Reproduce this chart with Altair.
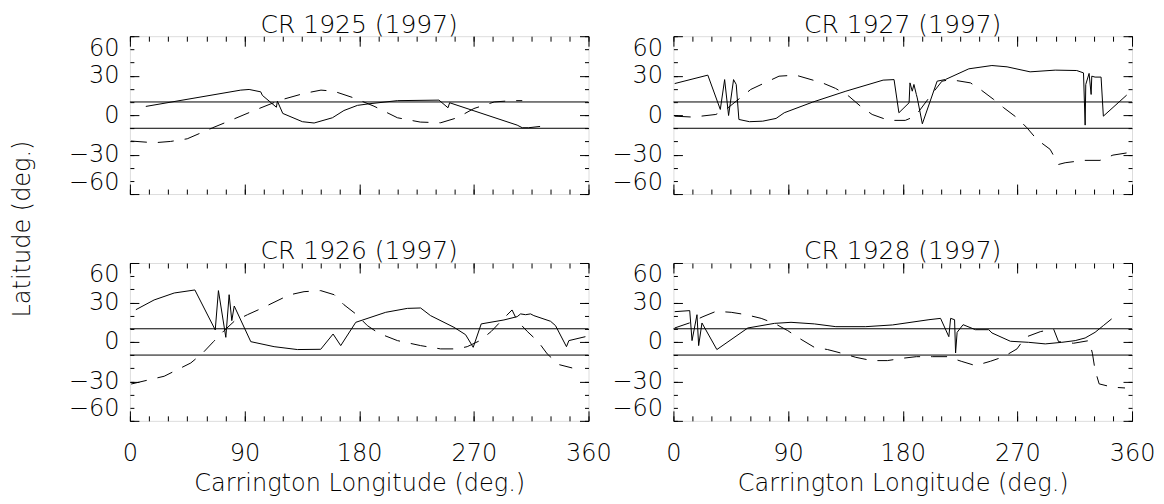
import altair as alt
import pandas as pd

# ---------------- data ----------------
X_MIN, X_MAX = 0, 360
Y_MIN, Y_MAX = -60, 60
BAND = [-10, 10]
X_MAJOR = [0, 90, 180, 270, 360]
X_MINOR = list(range(0, 361, 15))
Y_MAJOR = [-60, -30, 0, 30, 60]
Y_MINOR = list(range(-60, 61, 10))

CR1925_SOLID_LON = [12.5, 87, 93.6, 102.7, 104, 115, 115.8, 120, 135.4, 144.6, 159, 168, 178.6, 187.7,
                    210, 242.6, 249.7, 251, 304, 308, 313, 322]
CR1925_SOLID_LAT = [6.6, 19, 19.5, 17.7, 15, 6, 10.6, 1.3, -5, -6, -2, 3.5, 7.4, 8.6,
                    11, 11.4, 5.6, 9.4, -7.6, -9.6, -9.6, -8.6]
CR1925_DASH_LON = [0.8, 19, 32, 45, 65, 76.6, 97.5, 118, 136.7, 150, 160, 176, 191.6, 210, 228, 244,
                   257, 270, 286, 300, 308]
CR1925_DASH_LAT = [-19.7, -21, -20, -18, -9.6, -5, 3.5, 11.4, 16.5, 19, 18.2, 13, 6.8, -2, -5.3, -5.8,
                   -2, 5, 10, 11, 11]

CR1926_SOLID_LON = [4.7, 19, 34.8, 51, 67, 69.5, 75.3, 77.9, 80, 81.9, 94.9, 113.2, 131.5, 149.8, 159.5,
                    165.5, 177.3, 200.8, 217.8, 228.2, 236, 254.4, 263.5, 269.5, 275.8, 293.6, 304, 306.7,
                    310.6, 314.5, 317.1, 330.2, 334.1, 342.7, 344.6, 357.6]
CR1926_SOLID_LAT = [24.5, 31.9, 37.2, 39.5, 9.1, 39, 3.5, 35.9, 16.2, 27.3, 0.2, -3.6, -5.8, -5.6, 6,
                    -2.8, 14.9, 22.5, 25.5, 25.8, 20, 11.1, 5.5, -4.1, 13.7, 16.7, 19.2, 21.3,
                    20.7, 21.3, 20, 15.7, 12.4, -3.6, 1, 4]
CR1926_DASH_LON = [1, 26.9, 47.8, 57, 65.6, 74, 81.9, 92.3, 104, 125, 136.7, 149.8, 160.3, 168, 177.3,
                   186.4, 195.5, 210, 228.2, 243.9, 257, 264.8, 274.8, 283.7, 292.2, 300, 304, 311.9,
                   320.5, 327.6, 336.7, 347.2]
CR1926_DASH_LAT = [-32, -26.1, -16, -8.6, 0.2, 8.6, 15.7, 20.7, 25.8, 35.7, 38.2, 39, 35.9, 28.3, 21.3,
                   12.4, 6.5, 1, -2.8, -5.3, -5.3, -3.6, 1, 8, 16.7, 24.3, 16.2, 8,
                   0.2, -9.1, -17.2, -19.8]

CR1927_SOLID_LON = [1, 27, 36.8, 40.2, 43.3, 47.2, 49.3, 51.4, 59.7, 70.1, 80.6, 87, 109.3, 135.4, 164.6,
                    173.2, 177, 185, 185.7, 187.5, 188.8, 190.7, 191.4, 195.4, 207, 213.6, 231.9, 250,
                    261.9, 280, 299.7, 316.6, 321.9, 323.2, 323.7, 326.3, 327.9, 328.4, 331, 335.7,
                    337.5, 355.8]
CR1927_SOLID_LAT = [24, 30.4, 4.3, 27, -0.3, 27, 23.3, -3.3, -5, -4.6, -2.5, 1.8, 9.9, 18.2, 26.6,
                    27, 1.8, 9.4, 24.5, 18.2, 23.3, 15.7, 13.1, -6.6, 25.8, 27.1, 35.2, 37.7,
                    36.7, 32.9, 34.2, 33.9, 32.1, -7.6, 23.3, 31.7, 15.7, 29.6, 28.9, 28.9,
                    -0.8, 15.2]
CR1927_DASH_LON = [1, 15.4, 33.3, 41.2, 60.7, 82.9, 96, 117, 127.3, 137.7, 146.8, 156, 169, 182, 189.9,
                   201.6, 210.8, 217.5, 233.2, 241, 251.4, 259.3, 269.7, 277.5, 285.3, 295.7, 302.3,
                   307.5, 321.9, 334.9, 345, 356.8]
CR1927_DASH_LAT = [-0.8, -1.5, 0.5, 4.3, 19.5, 29.6, 30.4, 24.5, 20.3, 14.4, 6.8, 0.5, -4, -4, -0.8,
                   14.4, 25.8, 27, 24.5, 19.5, 11.9, 5.6, -2, -9.6, -18.5, -26, -37.5,
                   -36.2, -34.4, -34.4, -30.4, -28.6]

CR1928_SOLID_LON = [1, 12.8, 14.6, 18.5, 19.8, 22.4, 34.1, 58.4, 79.3, 92.3, 110.6, 127.5, 151, 172,
                    200.6, 209.7, 216.2, 217.6, 220.7, 221.5, 222.7, 227.4, 237.1, 247.5, 250.1,
                    264.5, 278.8, 291.9, 304.9, 315.4, 323.2, 331, 337.5, 344]
CR1928_SOLID_LAT = [23, 23.8, 1, 20.7, -2.8, 14.4, -5.8, 10.6, 14.1, 14.9, 13.7, 11.6, 11.6, 12.9,
                    16.9, 17.9, 4, 17.9, 16.9, -8.4, 7.3, 13.1, 9.3, 9.3, 6.8,
                    0.5, -0.3, -1.5, -0.3, 1, 3, 7.3, 12.4, 17.5]
CR1928_DASH_LON = [1, 12.5, 23.2, 33.6, 45.4, 57.1, 68.9, 79.3, 89.7, 99.6, 110.6, 121, 134, 143.2,
                   155.7, 168, 179.2, 190.7, 203.2, 214.9, 225.9, 237.1, 248.9, 259.3, 269.7, 276.2,
                   288, 298.4, 302.3, 314.1, 326.3, 328.9, 331, 334.2, 344.6, 354.5]
CR1928_DASH_LAT = [10.6, 14.4, 19.2, 23.3, 22.5, 20.7, 17.9, 14.1, 8.6, 2.3, -4.1, -5.8, -9.1, -11.7,
                   -14.2, -14.2, -12.5, -11.2, -11.2, -11.2, -14.7, -18, -14.7, -11.2, -5.3, 3.5,
                   7.8, 9.9, 0.2, -1, 1, -8.6, -21.5, -31.9, -34.4, -35]

TITLES = {"1925": "CR 1925 (1997)", "1926": "CR 1926 (1997)",
          "1927": "CR 1927 (1997)", "1928": "CR 1928 (1997)"}
X_TITLE = "Carrington Longitude (deg.)"
Y_TITLE = "Latitude (deg.)"

# ---------------- styling ----------------
FONT = "DejaVu Sans"
WEIGHT = 200
FS = 24
TFS = 25
W, H = 459, 158
XMAJ, XMIN_T, YMAJ, YMIN_T = 10, 5, 9, 4

common = dict(domain=False, grid=False, ticks=True, tickColor="black", tickWidth=1,
              labelFont=FONT, labelFontSize=FS, labelFontWeight=WEIGHT, labelColor="black",
              titleFont=FONT, titleFontSize=FS, titleFontWeight=WEIGHT, titleColor="black",
              labelOverlap=False)


def panel(key, slon, slat, dlon, dlat, bottom, ytitle):
    solid = pd.DataFrame({"lon": slon, "lat": slat, "i": range(len(slon))})
    dashed = pd.DataFrame({"lon": dlon, "lat": dlat, "i": range(len(dlon))})
    upper = pd.DataFrame({"x0": [X_MIN], "x1": [X_MAX], "lat": [BAND[1]]})
    lower = pd.DataFrame({"x0": [X_MIN], "x1": [X_MAX], "lat": [BAND[0]]})
    xs = alt.Scale(domain=[X_MIN, X_MAX], nice=False, zero=False)
    ys = alt.Scale(domain=[Y_MIN, Y_MAX], nice=False, zero=False)

    ax_b = alt.Axis(orient="bottom", values=X_MAJOR, tickSize=XMAJ, offset=-XMAJ, labels=bottom,
                    labelPadding=21, labelFlush=False, format="d", titlePadding=6, **common)
    ax_t = alt.Axis(orient="top", values=X_MAJOR, tickSize=XMAJ, offset=-XMAJ, labels=False, **common)
    ax_bm = alt.Axis(orient="bottom", values=X_MINOR, tickSize=XMIN_T, offset=-XMIN_T, labels=False, **common)
    ax_tm = alt.Axis(orient="top", values=X_MINOR, tickSize=XMIN_T, offset=-XMIN_T, labels=False, **common)

    left_kw = dict(orient="left", values=Y_MAJOR, tickSize=YMAJ, offset=-YMAJ, labels=True,
                   labelPadding=11, labelFlush=True, format="d")
    if ytitle:
        left_kw.update(titleX=-109, titleY=H + 34.5, titleBaseline="alphabetic", titleAngle=270,
                       titleAlign="center")
    ay_l = alt.Axis(**left_kw, **common)
    ay_r = alt.Axis(orient="right", values=Y_MAJOR, tickSize=YMAJ, offset=-YMAJ, labels=False, **common)
    ay_lm = alt.Axis(orient="left", values=Y_MINOR, tickSize=YMIN_T, offset=-YMIN_T, labels=False, **common)
    ay_rm = alt.Axis(orient="right", values=Y_MINOR, tickSize=YMIN_T, offset=-YMIN_T, labels=False, **common)

    l_solid = alt.Chart(solid).mark_line(color="black", strokeWidth=1).encode(
        x=alt.X("lon:Q", scale=xs, axis=ax_b, title=X_TITLE if bottom else ""),
        y=alt.Y("lat:Q", scale=ys, axis=ay_l, title=Y_TITLE if ytitle else ""),
        order="i:Q")
    l_dash = alt.Chart(dashed).mark_line(color="black", strokeWidth=1, strokeDash=[16, 11]).encode(
        x=alt.X("lon:Q", scale=xs, axis=ax_t, title=""),
        y=alt.Y("lat:Q", scale=ys, axis=ay_r, title=""),
        order="i:Q")
    l_up = alt.Chart(upper).mark_rule(color="black", strokeWidth=1).encode(
        x=alt.X("x0:Q", scale=xs, axis=ax_bm, title=""), x2="x1:Q",
        y=alt.Y("lat:Q", scale=ys, axis=ay_lm, title=""))
    l_lo = alt.Chart(lower).mark_rule(color="black", strokeWidth=1).encode(
        x=alt.X("x0:Q", scale=xs, axis=ax_tm, title=""), x2="x1:Q",
        y=alt.Y("lat:Q", scale=ys, axis=ay_rm, title=""))

    return alt.layer(l_solid, l_dash, l_up, l_lo).resolve_axis(
        x="independent", y="independent").properties(
        width=W, height=H,
        title=alt.TitleParams(text=TITLES[key], font=FONT, fontSize=TFS, fontWeight=WEIGHT,
                              color="black", anchor="middle", offset=-2))


p1925 = panel("1925", CR1925_SOLID_LON, CR1925_SOLID_LAT, CR1925_DASH_LON, CR1925_DASH_LAT, False, True)
p1927 = panel("1927", CR1927_SOLID_LON, CR1927_SOLID_LAT, CR1927_DASH_LON, CR1927_DASH_LAT, False, False)
p1926 = panel("1926", CR1926_SOLID_LON, CR1926_SOLID_LAT, CR1926_DASH_LON, CR1926_DASH_LAT, True, False)
p1928 = panel("1928", CR1928_SOLID_LON, CR1928_SOLID_LAT, CR1928_DASH_LON, CR1928_DASH_LAT, True, False)

chart = alt.concat(p1925, p1927, p1926, p1928, columns=2,
                   spacing={"row": 69, "column": 85}, bounds="flush").properties(
    padding={"left": 2, "top": 4, "right": 0, "bottom": 0}
).configure_view(stroke="black", strokeWidth=1).configure(background="white")

chart.save("out.html", embed_options={"renderer": "svg", "actions": False})
